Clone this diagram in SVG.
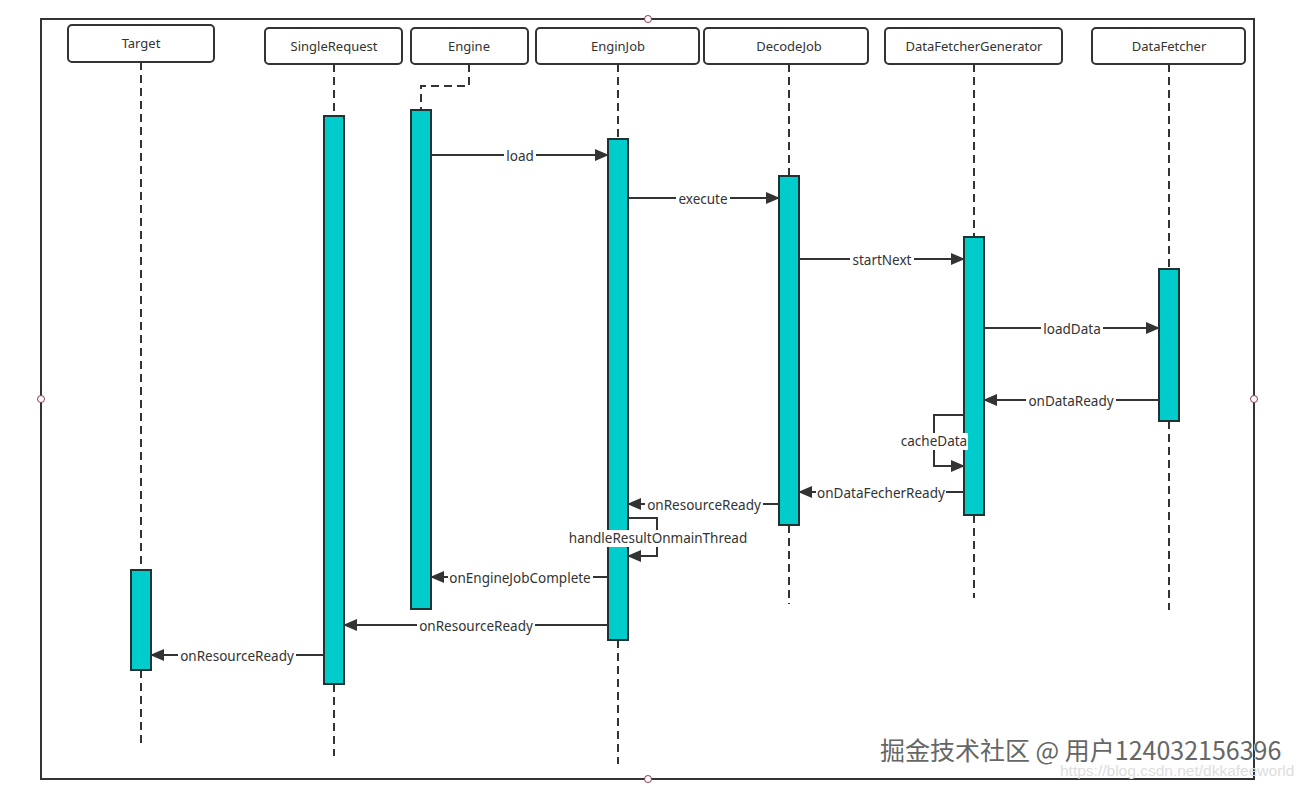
<svg xmlns="http://www.w3.org/2000/svg" width="1306" height="789" viewBox="0 0 1306 789">
<style>
.box{fill:#fff;stroke:#333;stroke-width:2}
.hdr text{font-family:"Noto Sans","Liberation Sans",sans-serif;font-size:13px;fill:#333;text-anchor:middle}
.life{fill:none;stroke:#333;stroke-width:2;stroke-dasharray:8 5}
.act{fill:#00CCCC;stroke:#1e3434;stroke-width:2}
.msg{fill:none;stroke:#333;stroke-width:2}
.lbl{font-family:"Noto Sans","Liberation Sans",sans-serif;font-size:13.5px;fill:#333;text-anchor:middle}
.bg{fill:#fff}
.wm{font-family:"Noto Sans CJK SC","Noto Sans",sans-serif;font-size:25px;fill:#666;stroke:#fff;stroke-width:1;paint-order:stroke}
.wm2{font-family:"Liberation Sans",sans-serif;font-size:15.5px;fill:#ddd}
</style>
<defs>
<marker id="ah" markerWidth="14" markerHeight="12" refX="13" refY="6" orient="auto" markerUnits="userSpaceOnUse">
<path d="M0,0 L14,6 L0,12 Z" fill="#333"/>
</marker>
</defs>
<rect width="1306" height="789" fill="#fff"/>
<g id="frame">
<rect x="41" y="19" width="1213" height="760" fill="none" stroke="#333" stroke-width="2"/>
<g fill="#fff" stroke="#8a3a4a" stroke-width="1">
<circle cx="648" cy="19" r="3.5"/><circle cx="41" cy="399" r="3.5"/><circle cx="1254" cy="399" r="3.5"/><circle cx="648" cy="779" r="3.5"/>
</g>
</g>
<g id="lifelines">
<path class="life" d="M141,62 V570 M141,670 V748"/>
<path class="life" d="M334,64 V116 M334,684 V756"/>
<path class="life" d="M469,64 V86 H421 V110"/>
<path class="life" d="M618,64 V139 M618,640 V764"/>
<path class="life" d="M789,64 V176 M789,525 V604"/>
<path class="life" d="M974,64 V237 M974,515 V598"/>
<path class="life" d="M1169,64 V269 M1169,421 V610"/>
</g>
<g id="node-target" class="hdr"><rect class="box" x="68" y="25" width="146" height="37" rx="4"/><text x="141" y="48">Target</text><rect class="act" x="131" y="570" width="20" height="100"/></g>
<g id="node-singlerequest" class="hdr"><rect class="box" x="265" y="28" width="137" height="36" rx="4"/><text x="334" y="51">SingleRequest</text><rect class="act" x="324" y="116" width="20" height="568"/></g>
<g id="node-engine" class="hdr"><rect class="box" x="411" y="28" width="117" height="36" rx="4"/><text x="469" y="51">Engine</text><rect class="act" x="411" y="110" width="20" height="499"/></g>
<g id="node-enginjob" class="hdr"><rect class="box" x="536" y="28" width="163" height="36" rx="4"/><text x="618" y="51">EnginJob</text><rect class="act" x="608" y="139" width="20" height="501"/></g>
<g id="node-decodejob" class="hdr"><rect class="box" x="704" y="28" width="164" height="36" rx="4"/><text x="789" y="51">DecodeJob</text><rect class="act" x="779" y="176" width="20" height="349"/></g>
<g id="node-datafetchergenerator" class="hdr"><rect class="box" x="885" y="28" width="177" height="36" rx="4"/><text x="974" y="51">DataFetcherGenerator</text><rect class="act" x="964" y="237" width="20" height="278"/></g>
<g id="node-datafetcher" class="hdr"><rect class="box" x="1092" y="28" width="153" height="36" rx="4"/><text x="1169" y="51">DataFetcher</text><rect class="act" x="1159" y="269" width="20" height="152"/></g>
<g id="connectors">
<path class="msg" marker-end="url(#ah)" d="M431,155 H608"/>
<rect class="bg" x="504" y="148" width="32" height="16"/><text class="lbl" x="520" y="161">load</text>
<path class="msg" marker-end="url(#ah)" d="M628,198 H779"/>
<rect class="bg" x="676" y="191" width="54" height="16"/><text class="lbl" x="703" y="204">execute</text>
<path class="msg" marker-end="url(#ah)" d="M799,259 H964"/>
<rect class="bg" x="850" y="252" width="64" height="16"/><text class="lbl" x="882" y="265">startNext</text>
<path class="msg" marker-end="url(#ah)" d="M984,328 H1159"/>
<rect class="bg" x="1041" y="321" width="62" height="16"/><text class="lbl" x="1072" y="334">loadData</text>
<path class="msg" marker-end="url(#ah)" d="M1159,400 H984"/>
<rect class="bg" x="1026" y="393" width="90" height="16"/><text class="lbl" x="1071" y="406">onDataReady</text>
<path class="msg" marker-end="url(#ah)" d="M964,415 H934 V466 H964"/>
<rect class="bg" x="900" y="433" width="68" height="17"/><text class="lbl" x="934" y="446">cacheData</text>
<path class="msg" marker-end="url(#ah)" d="M964,492 H799"/>
<rect class="bg" x="816" y="485" width="130" height="16"/><text class="lbl" x="881" y="498">onDataFecherReady</text>
<path class="msg" marker-end="url(#ah)" d="M779,504 H628"/>
<rect class="bg" x="645" y="497" width="118" height="16"/><text class="lbl" x="704" y="510">onResourceReady</text>
<path class="msg" marker-end="url(#ah)" d="M628,518 H657 V556 H628"/>
<rect class="bg" x="568" y="530" width="180" height="17"/><text class="lbl" x="658" y="543">handleResultOnmainThread</text>
<path class="msg" marker-end="url(#ah)" d="M608,577 H431"/>
<rect class="bg" x="448" y="570" width="145" height="16"/><text class="lbl" x="520" y="583">onEngineJobComplete</text>
<path class="msg" marker-end="url(#ah)" d="M608,625 H344"/>
<rect class="bg" x="417" y="618" width="118" height="16"/><text class="lbl" x="476" y="631">onResourceReady</text>
<path class="msg" marker-end="url(#ah)" d="M324,655 H151"/>
<rect class="bg" x="178" y="648" width="118" height="16"/><text class="lbl" x="237" y="661">onResourceReady</text>
</g>
<g id="watermark">
<text class="wm2" x="1060" y="776">https://blog.csdn.net/dkkafeeworld</text>
<text class="wm" x="880" y="760">掘金技术社区 @ 用户124032156396</text>
</g>
</svg>
